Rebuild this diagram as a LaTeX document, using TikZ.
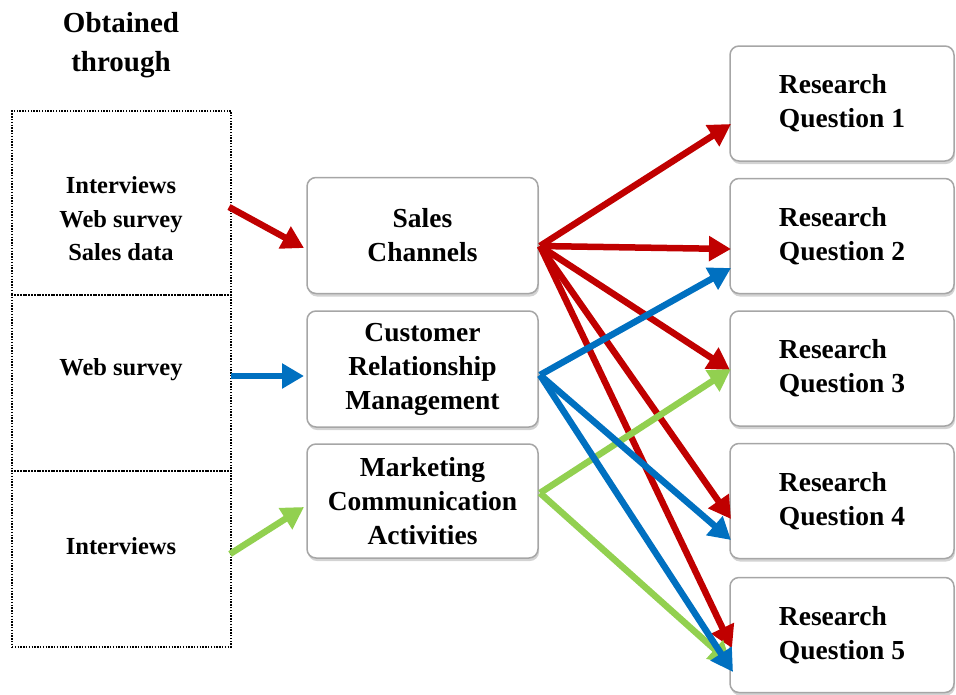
\documentclass[tikz,border=0pt]{standalone}
\usepackage{fontspec}
\setmainfont{Liberation Serif}
\usetikzlibrary{arrows.meta,shadows}
\definecolor{cred}{HTML}{C00000}
\definecolor{cblue}{HTML}{0070C0}
\definecolor{cgreen}{HTML}{92D050}
\begin{document}
\begin{tikzpicture}[x=1pt,y=-1pt,
  srcbox/.style={draw=black, line width=1.3pt, dash pattern=on 1.4pt off 1.4pt, minimum width=219pt, inner sep=0pt},
  srctext/.style={align=center, font=\fontsize{24.5}{33.5}\selectfont\bfseries, inner sep=0pt},
  midbox/.style={draw=gray!70, line width=1.5pt, fill=white, rounded corners=9pt, minimum width=231pt, minimum height=115pt, align=center, font=\fontsize{27.5}{34}\selectfont\bfseries, inner sep=0pt, drop shadow={shadow xshift=1pt, shadow yshift=-3pt, opacity=0.35}},
  rqbox/.style={midbox, minimum width=224pt, align=left},
  conn/.style={line width=6.5pt, -{Triangle[length=22pt,width=24pt]}},
]
\useasboundingbox (0,0) rectangle (956,694);

% title
\node[align=center, font=\fontsize{29}{39}\selectfont\bfseries, inner sep=0pt] (title) at (121,45) {Obtained\\through};

% source boxes
\node[srcbox, minimum height=184pt] (s1) at (121.5,203) {};
\node[srcbox, minimum height=176pt] (s2) at (121.5,383) {};
\node[srcbox, minimum height=176pt] (s3) at (121.5,559) {};
\node[srctext] (t1) at (121,219) {Interviews\\Web survey\\Sales data};
\node[srctext] (t2) at (121,370) {Web survey};
\node[srctext] (t3) at (121,546) {Interviews};

% middle boxes
\node[midbox, minimum height=116pt] (sc) at (422.5,235.5) {Sales\\Channels};
\node[midbox, minimum height=116pt] (crm) at (422.5,369) {Customer\\Relationship\\Management};
\node[midbox, minimum height=114pt] (mca) at (422.5,501) {Marketing\\Communication\\Activities};

% research question boxes
\node[rqbox] (q1) at (842,103.5) {Research\\Question 1};
\node[rqbox] (q2) at (842,236) {Research\\Question 2};
\node[rqbox] (q3) at (842,368.5) {Research\\Question 3};
\node[rqbox] (q4) at (842,501) {Research\\Question 4};
\node[rqbox] (q5) at (842,635) {Research\\Question 5};

% connector points
\coordinate (s1o) at (229,207);
\coordinate (s2o) at (231,376);
\coordinate (s3o) at (230,554);
\coordinate (sci) at (304,248);
\coordinate (crmi) at (304,376);
\coordinate (mcai) at (304,507);
\coordinate (sco) at (540,246);
\coordinate (crmo) at (540,375);
\coordinate (mcao) at (540,493);
\coordinate (q1r) at (731,124);
\coordinate (q2r) at (731,249);
\coordinate (q3r) at (730,370);
\coordinate (q4r) at (731,519);
\coordinate (q5r) at (732,648);
\coordinate (q2b) at (731,268);
\coordinate (q4b) at (731,540);
\coordinate (q5b) at (733,672);
\coordinate (q3g) at (731,369);
\coordinate (q5g) at (731,664);

% red
\draw[conn, cred] (s1o) -- (sci);
\draw[conn, cred] (sco) -- (q1r);
\draw[conn, cred] (sco) -- (q2r);
\draw[conn, cred] (sco) -- (q3r);
\draw[conn, cred] (sco) -- (q4r);
\draw[conn, cred] (sco) -- (q5r);
% green
\draw[conn, cgreen] (s3o) -- (mcai);
\draw[conn, cgreen] (mcao) -- (q3g);
\draw[conn, cgreen] (mcao) -- (q5g);
% blue
\draw[conn, cblue] (s2o) -- (crmi);
\draw[conn, cblue] (crmo) -- (q2b);
\draw[conn, cblue] (crmo) -- (q4b);
\draw[conn, cblue] (crmo) -- (q5b);
\end{tikzpicture}
\end{document}
